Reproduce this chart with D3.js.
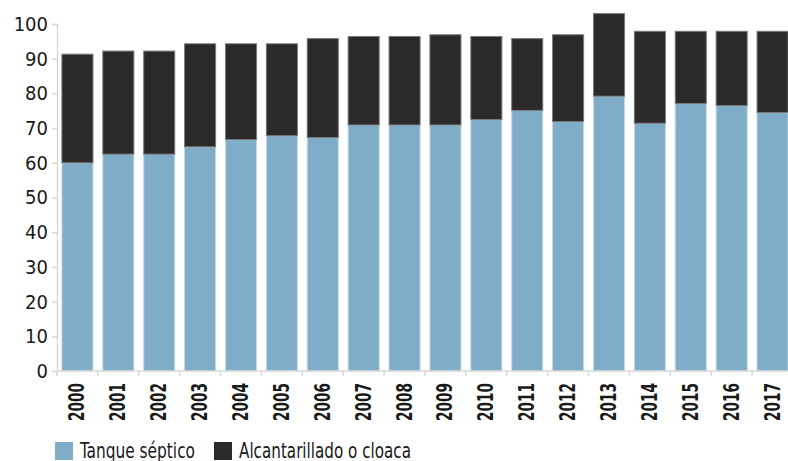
<!DOCTYPE html>
<html>
<head>
<meta charset="utf-8">
<script src="https://cdn.jsdelivr.net/npm/d3@7"></script>
<style>
  body { margin: 0; background: #fff; }
  svg { display: block; }
</style>
</head>
<body>
<svg id="chart"></svg>
<script>
var years = ["2000", "2001", "2002", "2003", "2004", "2005", "2006", "2007", "2008",
             "2009", "2010", "2011", "2012", "2013", "2014", "2015", "2016", "2017"];
var tanque = [60, 62.5, 62.5, 64.6, 66.7, 67.8, 67.3, 70.9, 70.9,
              70.9, 72.5, 75.1, 71.9, 79.2, 71.4, 77.1, 76.5, 74.5];
var alcantarillado = [31.3, 29.7, 29.7, 29.7, 27.6, 26.5, 28.5, 25.5, 25.5,
                      26.0, 23.9, 20.7, 25.0, 23.8, 26.5, 20.8, 21.4, 23.4];
var yTicks = [0, 10, 20, 30, 40, 50, 60, 70, 80, 90, 100];
var seriesNames = ["Tanque séptico", "Alcantarillado o cloaca"];
var colors = ["#7fadc8", "#2a2a2a"];
var strokes = ["#c6d9e5", "#7a7a7a"];

var width = 788, height = 461;
var margin = { left: 57, top: 24, bottom: 371 };
var fontFamily = "'DejaVu Sans Condensed', 'DejaVu Sans', sans-serif";

var svg = d3.select("svg#chart")
    .attr("width", width)
    .attr("height", height);

var x = d3.scaleBand()
    .domain(years)
    .range([margin.left, 793])
    .paddingInner(0.24)
    .paddingOuter(0.12);

var y = d3.scaleLinear()
    .domain([0, 100])
    .range([margin.bottom, margin.top]);

var rows = years.map(function(d, i) {
    return { year: d, tanque: tanque[i], alcantarillado: alcantarillado[i] };
});
var stack = d3.stack().keys(["tanque", "alcantarillado"])(rows);

// bars
svg.append("g")
    .attr("class", "bars")
    .selectAll("g").data(stack)
    .enter()
    .append("g")
    .attr("fill", function(d, i) { return colors[i]; })
    .attr("stroke", function(d, i) { return strokes[i]; })
    .attr("stroke-width", 1)
    .selectAll("rect").data(function(d) { return d; })
    .enter()
    .append("rect")
    .attr("x", function(d) { return x(d.data.year); })
    .attr("width", x.bandwidth())
    .attr("y", function(d) { return y(d[1]); })
    .attr("height", function(d) { return y(d[0]) - y(d[1]); });

// y axis
var yAxis = svg.append("g")
    .attr("class", "axis axis-y")
    .attr("transform", "translate(" + margin.left + ",0)")
    .call(d3.axisLeft(y).tickValues(yTicks).tickSize(5).tickPadding(4));
yAxis.select(".domain").attr("stroke", "#d9d9d9").attr("stroke-width", 1.5);
yAxis.selectAll(".tick line").attr("stroke", "#d9d9d9").attr("stroke-width", 1.5);
yAxis.selectAll(".tick text")
    .attr("fill", "#1a1a1a")
    .style("font-family", fontFamily)
    .style("font-size", "20px");

// x axis line and ticks at band edges
var xAxis = svg.append("g").attr("class", "axis axis-x");
xAxis.append("line")
    .attr("x1", margin.left).attr("x2", width)
    .attr("y1", margin.bottom).attr("y2", margin.bottom)
    .attr("stroke", "#d9d9d9").attr("stroke-width", 1.5);
xAxis.selectAll("line.tick").data(years)
    .enter()
    .append("line")
    .attr("class", "tick")
    .attr("x1", function(d) { return x(d) - x.step() * x.paddingInner() / 2; })
    .attr("x2", function(d) { return x(d) - x.step() * x.paddingInner() / 2; })
    .attr("y1", margin.bottom).attr("y2", margin.bottom + 5)
    .attr("stroke", "#d9d9d9").attr("stroke-width", 1.5);
xAxis.selectAll("text").data(years)
    .enter()
    .append("text")
    .attr("transform", function(d) {
        return "translate(" + (x(d) + x.bandwidth() / 2 + 7) + "," + (margin.bottom + 12) + ") rotate(-90)";
    })
    .style("text-anchor", "end")
    .style("font-family", fontFamily)
    .style("font-weight", "bold")
    .style("font-size", "21px")
    .attr("textLength", 38)
    .attr("lengthAdjust", "spacingAndGlyphs")
    .attr("fill", "#1a1a1a")
    .text(function(d) { return d; });

// legend
var legend = svg.append("g").attr("class", "legend");
var legendX = [55, 214];
var legendLen = [115, 172];
seriesNames.forEach(function(name, i) {
    legend.append("rect")
        .attr("x", legendX[i]).attr("y", 442)
        .attr("width", 18).attr("height", 18)
        .attr("fill", colors[i]);
    legend.append("text")
        .attr("x", legendX[i] + 25).attr("y", 458)
        .style("font-family", fontFamily)
        .style("font-size", "21px")
        .attr("textLength", legendLen[i])
        .attr("lengthAdjust", "spacingAndGlyphs")
        .attr("fill", "#1a1a1a")
        .text(name);
});
</script>
</body>
</html>
